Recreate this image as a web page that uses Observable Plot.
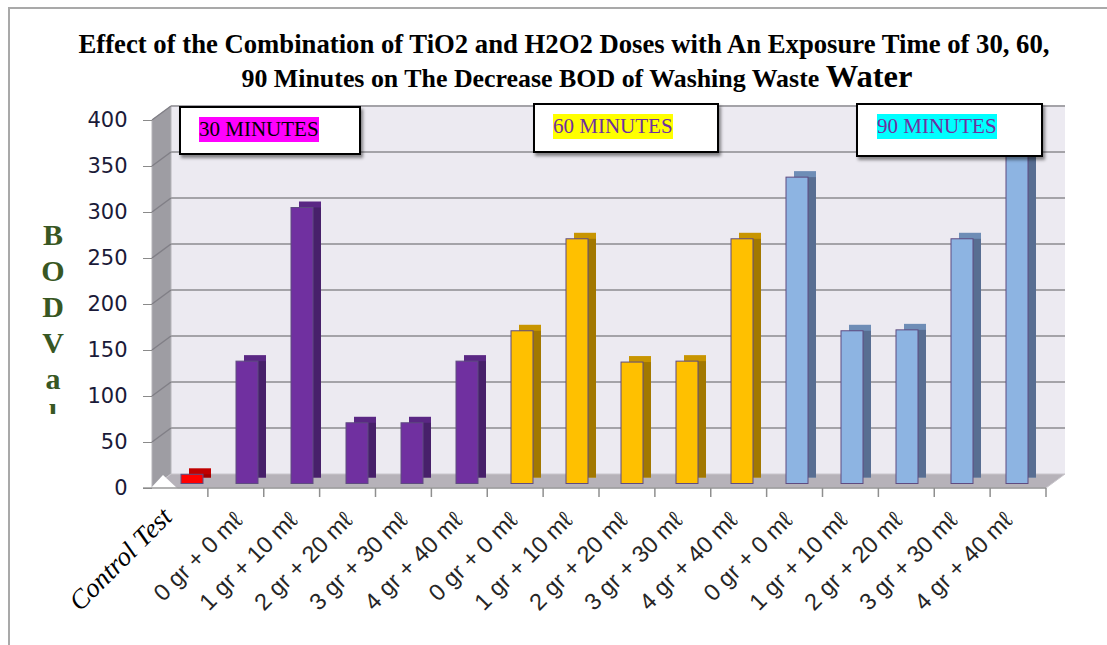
<!DOCTYPE html>
<html><head><meta charset="utf-8">
<script src="https://cdn.jsdelivr.net/npm/d3@7"></script>
<script src="https://cdn.jsdelivr.net/npm/@observablehq/plot@0.6"></script>
<style>
html,body{margin:0;padding:0;background:#fff;}
#wrap{position:relative;width:1107px;height:645px;overflow:hidden;background:#fff;}
#border{position:absolute;left:8px;top:7px;width:1300px;height:800px;border-top:2px solid #a9a9a9;border-left:2px solid #a9a9a9;}
.title{position:absolute;font-family:"Liberation Serif","Times New Roman",serif;font-weight:bold;color:#000;white-space:nowrap;text-align:center;}
#chart{position:absolute;left:0;top:0;}
.box{position:absolute;background:#fff;border:2px solid #000;box-shadow:2px 3px 3px rgba(0,0,0,0.45);box-sizing:border-box;z-index:5;}
.lab{position:absolute;font-family:"Liberation Serif","Times New Roman",serif;font-size:21px;line-height:25px;height:25px;white-space:nowrap;z-index:6;}
#ytitle{position:absolute;left:35px;top:217px;width:36px;height:197px;overflow:hidden;font-family:"Liberation Serif","Times New Roman",serif;font-weight:bold;font-size:30px;line-height:36px;color:#385723;text-align:center;}
</style></head>
<body><div id="wrap">
<div id="border"></div>
<div id="chart"></div>
<div id="t1" class="title"></div>
<div id="t2" class="title"></div>
<div id="ytitle"></div>
</div>
<script>
// ---- data ----
const categories = ["Control Test",
  "0 gr + 0 mℓ", "1 gr + 10 mℓ", "2 gr + 20 mℓ", "3 gr + 30 mℓ", "4 gr + 40 mℓ",
  "0 gr + 0 mℓ", "1 gr + 10 mℓ", "2 gr + 20 mℓ", "3 gr + 30 mℓ", "4 gr + 40 mℓ",
  "0 gr + 0 mℓ", "1 gr + 10 mℓ", "2 gr + 20 mℓ", "3 gr + 30 mℓ", "4 gr + 40 mℓ"];
const groups = ["Control",
  "30 MINUTES", "30 MINUTES", "30 MINUTES", "30 MINUTES", "30 MINUTES",
  "60 MINUTES", "60 MINUTES", "60 MINUTES", "60 MINUTES", "60 MINUTES",
  "90 MINUTES", "90 MINUTES", "90 MINUTES", "90 MINUTES", "90 MINUTES"];
const bod = [10, 133, 300, 66, 66, 133, 166, 266, 132, 133, 266, 333, 166, 167, 266, 375];
const yTicks = [0, 50, 100, 150, 200, 250, 300, 350, 400];
const legendLabels = ["30 MINUTES", "60 MINUTES", "90 MINUTES"];
const titleLine1 = "Effect of the Combination of TiO2 and H2O2 Doses with An Exposure Time of 30, 60,";
const titleLine2 = "90 Minutes on The Decrease BOD of Washing Waste ";
const titleLine2b = "Water";
const yTitle = ["B", "O", "D", "V", "a", "l"];

// ---- styles ----
const faceColors = {"Control": "#FF0000", "30 MINUTES": "#7030A0", "60 MINUTES": "#FFC000", "90 MINUTES": "#8DB4E2"};
const topColors = {"Control": "#C00000", "30 MINUTES": "#5A2784", "60 MINUTES": "#C89500", "90 MINUTES": "#6E8DB6"};
const sideColors = {"Control": "#A00000", "30 MINUTES": "#47206A", "60 MINUTES": "#A27800", "90 MINUTES": "#586E92"};
const legendStyle = [
  {box: [179, 106, 182, 49], lab: [199, 117], bg: "#FF00FF", color: "#000000"},
  {box: [533, 103, 186, 50], lab: [553, 114], bg: "#FFFF00", color: "#7030A0"},
  {box: [856, 103, 187, 54], lab: [877, 114], bg: "#00FFFF", color: "#7030A0"}
];

const data = bod.map((v, i) => ({id: i, label: categories[i], group: groups[i], v}));

// ---- 3D room (walls, floor, gridlines) drawn with the y scale ----
function room(index, scales, values, dims) {
  const {width, height, marginLeft, marginRight, marginBottom} = dims;
  const y = scales.y;
  const x0 = marginLeft, x1 = width - marginRight, y0 = height - marginBottom;
  const DX = 19, DY = -14;
  const top = y(yTicks[yTicks.length - 1]);
  const g = d3.create("svg:g");
  g.append("rect").attr("x", x0 + DX).attr("y", top + DY).attr("width", x1 - x0).attr("height", y0 - top).attr("fill", "#ECEAF1");
  g.append("path").attr("d", `M${x0},${top}L${x0 + DX},${top + DY}L${x0 + DX},${y0 + DY}L${x0},${y0}Z`).attr("fill", "#9E9DA3").attr("stroke", "#b5b4b9");
  for (const t of yTicks.slice(1)) {
    g.append("line").attr("x1", x0 + DX).attr("x2", x1 + DX).attr("y1", y(t) + DY).attr("y2", y(t) + DY).attr("stroke", "#A4A3A8").attr("stroke-width", 2);
    g.append("line").attr("x1", x0).attr("x2", x0 + DX).attr("y1", y(t)).attr("y2", y(t) + DY).attr("stroke", "#807f86").attr("stroke-width", 1.5);
  }
  g.append("path").attr("d", `M${x0},${y0}L${x1},${y0}L${x1 + DX},${y0 + DY}L${x0 + DX},${y0 + DY}Z`).attr("fill", "#B6B2B9").attr("stroke", "#c9c6cc");
  g.append("path").attr("d", `M${x0 - 2},${y0 + 1}L${x0 + 11},${y0 - 13}L${x0 + 26},${y0 + 1}Z`).attr("fill", "#ffffff");
  g.append("line").attr("x1", x0 - 9).attr("x2", x1).attr("y1", y0).attr("y2", y0).attr("stroke", "#9a9a9a").attr("stroke-width", 1.5);
  const n = categories.length, step = (x1 - x0) / n;
  for (let k = 1; k <= n; k++) {
    g.append("line").attr("x1", x0 + k * step).attr("x2", x0 + k * step).attr("y1", y0).attr("y2", y0 + 9).attr("stroke", "#8f8f8f").attr("stroke-width", 1.5);
  }
  return g.node();
}

const chart = Plot.plot({
  width: 1107, height: 645,
  marginLeft: 152, marginRight: 61, marginTop: 120, marginBottom: 157,
  style: {background: "transparent", overflow: "visible"},
  x: {type: "band", domain: data.map(d => d.id), paddingInner: 0.6, paddingOuter: 0.3, label: null},
  y: {domain: [0, 400], label: null},
  marks: [
    room,
    Plot.axisY({ticks: yTicks, tickSize: 9, tickPadding: 16, stroke: "#8a8a8a", fill: "#1a1a38", label: null,
      fontSize: 21, fontFamily: "DejaVu Sans", tickFormat: d => String(d)}),
    Plot.barY(data, {x: "id", y: "v", fill: d => topColors[d.group], dx: 13, dy: -10.5}),
    Plot.barY(data, {x: "id", y: "v", fill: d => sideColors[d.group], dx: 13, dy: -10.5, insetTop: 6}),
    Plot.barY(data, {x: "id", y: "v", fill: d => faceColors[d.group], stroke: "#5E4B80", strokeWidth: 1, dx: 5, dy: -4.5}),
    Plot.axisX({ticks: data.slice(1).map(d => d.id), tickFormat: i => categories[i], tickRotate: -45, tickSize: 0, label: null,
      tickPadding: 18, dx: -4, dy: 10, fontSize: 23.5, fontFamily: "Liberation Sans", fill: "#262626", stroke: "none"}),
    Plot.axisX({ticks: [data[0].id], tickFormat: i => categories[i], tickRotate: -45, tickSize: 0, label: null,
      tickPadding: 18, dx: -20, dy: 6, fontSize: 27, fontFamily: "Liberation Serif", fontStyle: "italic", fill: "#000", stroke: "none"})
  ]
});
document.getElementById("chart").append(chart);

// ---- title ----
const ctx = document.createElement("canvas").getContext("2d");
ctx.font = "bold 100px 'Liberation Serif'";
const F = Math.round(100 * 974 / ctx.measureText(titleLine1).width * 10) / 10;
const F2 = Math.round(F * 0.97 * 10) / 10;
const t1 = document.getElementById("t1");
t1.textContent = titleLine1;
t1.style.fontSize = F + "px"; t1.style.lineHeight = F + "px";
t1.style.left = (564 - 600) + "px"; t1.style.width = "1200px";
t1.style.top = (53 - 0.8375 * F) + "px";
const t2 = document.getElementById("t2");
t2.style.fontSize = F2 + "px"; t2.style.lineHeight = F2 + "px";
t2.style.left = (577 - 600) + "px"; t2.style.width = "1200px";
t2.style.top = (88 - 0.8375 * F2) + "px";
t2.append(document.createTextNode(titleLine2));
const w = document.createElement("span");
w.textContent = titleLine2b; w.style.fontSize = (F * 1.22) + "px"; w.style.lineHeight = "0";
t2.append(w);

// ---- y title ----
const yt = document.getElementById("ytitle");
yTitle.forEach(c => { const d = document.createElement("div"); d.textContent = c; yt.append(d); });

// ---- legend boxes ----
const wrap = document.getElementById("wrap");
legendLabels.forEach((txt, i) => {
  const s = legendStyle[i];
  const b = document.createElement("div");
  b.className = "box";
  Object.assign(b.style, {left: s.box[0] + "px", top: s.box[1] + "px", width: s.box[2] + "px", height: s.box[3] + "px"});
  wrap.append(b);
  const l = document.createElement("div");
  l.className = "lab"; l.textContent = txt;
  Object.assign(l.style, {left: s.lab[0] + "px", top: s.lab[1] + "px", background: s.bg, color: s.color});
  wrap.append(l);
});
</script>
</body></html>
